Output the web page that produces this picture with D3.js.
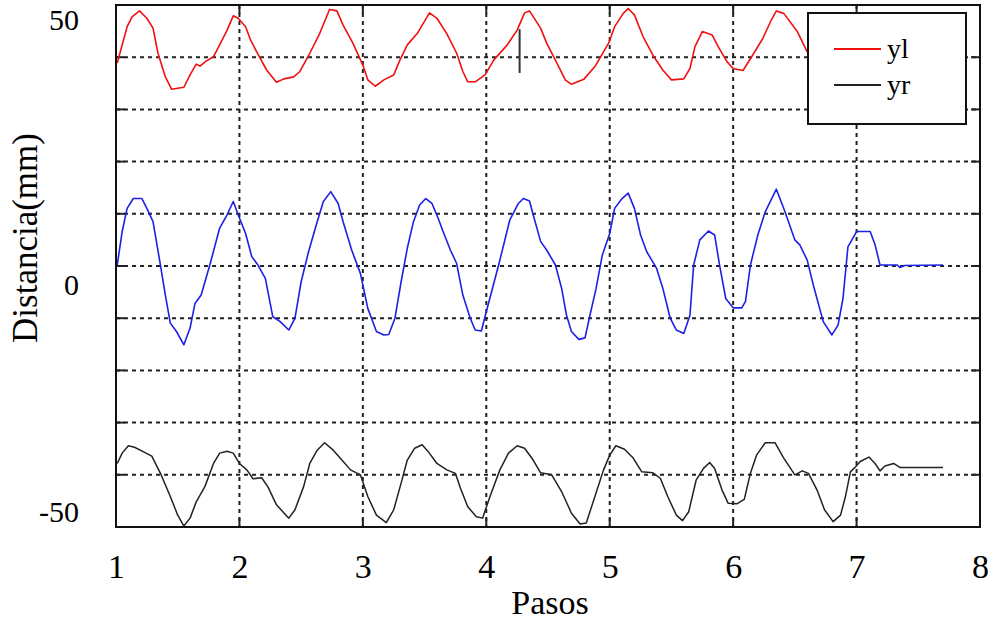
<!DOCTYPE html>
<html>
<head>
<meta charset="utf-8">
<script src="https://cdn.jsdelivr.net/npm/d3@7"></script>
<style>
  html, body { margin: 0; padding: 0; background: #fff; }
  svg { display: block; }
  text { font-family: "Liberation Serif", "Times New Roman", serif; fill: #000; }
</style>
</head>
<body>
<svg id="chart" width="994" height="623"></svg>
<script>
// ---------- data (x in Pasos, y in mm) ----------
const xTickValues = [1, 2, 3, 4, 5, 6, 7, 8];
const xGridValues = [2, 3, 4, 5, 6, 7];
const yTickValues = [50, 0, -50];
const yGridValues = [-42.4, -31.8, -21.2, -10.6, 0, 10.6, 21.2, 31.8, 42.4];
const seriesNames = ["yl", "yr"];

const ylData = [
  [1.01,41.2],[1.09,48.6],[1.13,50.6],[1.19,51.8],[1.25,50.3],[1.30,48.3],[1.34,43.2],[1.40,38.4],
  [1.45,35.9],[1.55,36.3],[1.60,38.8],[1.65,41.0],[1.68,40.6],[1.73,41.6],[1.79,42.5],[1.84,44.9],
  [1.90,47.9],[1.95,50.8],[1.99,50.3],[2.05,48.6],[2.09,45.9],[2.14,43.5],[2.22,39.8],[2.30,37.3],
  [2.36,38.0],[2.44,38.4],[2.49,39.5],[2.57,43.2],[2.65,47.2],[2.73,52.1],[2.79,51.8],[2.84,48.9],
  [2.92,45.2],[3.00,40.8],[3.04,37.8],[3.10,36.5],[3.17,37.8],[3.25,38.8],[3.30,41.8],[3.36,44.9],
  [3.44,47.2],[3.54,51.4],[3.60,50.3],[3.68,47.2],[3.76,43.2],[3.81,39.5],[3.85,37.4],[3.91,37.4],
  [3.99,38.8],[4.06,41.8],[4.17,44.9],[4.25,47.9],[4.31,51.4],[4.35,51.8],[4.44,48.3],[4.49,45.2],
  [4.56,41.8],[4.64,37.8],[4.69,36.9],[4.79,37.9],[4.88,40.5],[4.99,45.2],[5.04,48.6],[5.11,51.3],
  [5.15,52.3],[5.20,51.0],[5.27,46.6],[5.35,42.8],[5.43,39.8],[5.50,37.8],[5.60,38.0],[5.65,40.1],
  [5.69,44.5],[5.75,47.6],[5.83,46.9],[5.88,44.5],[5.95,41.5],[6.00,40.1],[6.08,39.7],[6.15,42.5],
  [6.24,46.2],[6.31,50.0],[6.35,51.8],[6.41,51.3],[6.52,47.6],[6.60,43.5]
];

const ycData = [
  [1.01,0.2],[1.05,7.0],[1.09,11.7],[1.14,13.7],[1.21,13.7],[1.25,11.7],[1.30,9.0],[1.36,0.2],
  [1.40,-5.9],[1.44,-11.6],[1.49,-13.3],[1.55,-16.0],[1.60,-12.6],[1.64,-7.6],[1.69,-5.9],[1.76,0.2],
  [1.84,7.7],[1.90,10.4],[1.95,13.1],[1.99,10.4],[2.05,6.6],[2.10,1.9],[2.15,0.2],[2.21,-2.5],
  [2.27,-10.3],[2.33,-11.3],[2.40,-13.0],[2.45,-10.6],[2.50,-3.2],[2.56,2.9],[2.63,9.0],[2.68,13.1],
  [2.74,15.1],[2.80,12.7],[2.84,9.0],[2.91,3.2],[2.98,-1.5],[3.04,-8.6],[3.11,-13.3],[3.17,-14.0],
  [3.21,-13.9],[3.26,-10.6],[3.31,-3.2],[3.36,3.6],[3.41,9.0],[3.46,12.4],[3.51,13.7],[3.56,12.7],
  [3.61,9.7],[3.65,7.0],[3.71,3.2],[3.76,0.5],[3.81,-5.9],[3.87,-10.6],[3.91,-13.0],[3.96,-13.2],
  [4.00,-9.3],[4.10,0.2],[4.19,9.3],[4.26,12.7],[4.30,13.7],[4.35,13.2],[4.38,10.4],[4.44,5.0],
  [4.49,3.2],[4.56,0.2],[4.61,-4.5],[4.65,-10.0],[4.69,-13.3],[4.75,-14.9],[4.80,-14.6],[4.84,-10.0],
  [4.89,-4.5],[4.94,2.2],[5.00,6.6],[5.04,11.7],[5.10,13.7],[5.15,14.8],[5.20,11.7],[5.25,6.3],
  [5.30,2.9],[5.38,-0.5],[5.43,-4.5],[5.49,-10.6],[5.54,-13.0],[5.60,-13.7],[5.65,-10.0],[5.68,0.2],
  [5.73,5.3],[5.80,7.1],[5.85,6.3],[5.89,0.2],[5.94,-6.6],[6.00,-8.5],[6.07,-8.5],[6.10,-7.2],
  [6.14,0.2],[6.20,6.3],[6.26,11.0],[6.35,15.6],[6.42,11.0],[6.50,5.3],[6.54,4.3],[6.60,1.2],
  [6.65,-3.9],[6.73,-11.3],[6.80,-14.0],[6.85,-12.0],[6.89,-6.6],[6.93,3.9],[7.00,7.0],[7.11,7.0],
  [7.15,4.3],[7.19,0.2],[7.33,0.2],[7.35,-0.3],[7.39,0.1],[7.70,0.2]
];

const yrData = [
  [1.01,-40.1],[1.05,-38.0],[1.10,-36.5],[1.15,-36.8],[1.22,-37.7],[1.29,-38.6],[1.36,-42.1],[1.44,-46.8],
  [1.50,-50.6],[1.55,-52.8],[1.60,-51.2],[1.65,-47.9],[1.72,-44.8],[1.79,-40.1],[1.84,-38.0],[1.90,-37.6],
  [1.95,-38.0],[2.00,-40.1],[2.06,-41.4],[2.11,-43.2],[2.18,-43.0],[2.23,-44.8],[2.30,-48.5],[2.40,-51.2],
  [2.45,-49.5],[2.52,-44.8],[2.57,-40.1],[2.63,-37.4],[2.69,-35.9],[2.76,-37.4],[2.83,-39.4],[2.90,-41.4],
  [2.98,-42.4],[3.04,-46.8],[3.11,-50.6],[3.19,-52.1],[3.25,-49.5],[3.31,-44.1],[3.36,-39.4],[3.42,-37.0],
  [3.48,-36.3],[3.53,-37.7],[3.60,-40.1],[3.68,-41.4],[3.75,-42.1],[3.79,-45.1],[3.85,-48.9],[3.92,-50.9],
  [3.97,-51.2],[4.03,-46.8],[4.11,-41.4],[4.18,-38.0],[4.25,-36.5],[4.31,-37.0],[4.38,-39.4],[4.44,-42.0],
  [4.53,-42.4],[4.61,-45.8],[4.69,-50.2],[4.76,-52.4],[4.81,-52.2],[4.88,-46.8],[4.95,-41.4],[5.00,-38.4],
  [5.05,-36.5],[5.12,-37.2],[5.19,-39.0],[5.26,-41.8],[5.35,-42.0],[5.41,-43.1],[5.47,-46.8],[5.54,-50.6],
  [5.59,-51.7],[5.64,-49.9],[5.70,-43.5],[5.76,-41.1],[5.81,-39.9],[5.85,-41.1],[5.91,-45.5],[5.96,-48.2],
  [6.03,-48.3],[6.09,-47.4],[6.14,-42.1],[6.19,-38.4],[6.26,-35.9],[6.34,-35.9],[6.41,-39.0],[6.50,-42.4],
  [6.56,-41.6],[6.61,-42.1],[6.68,-45.5],[6.74,-49.5],[6.81,-51.9],[6.87,-50.6],[6.91,-46.8],[6.95,-41.8],
  [6.99,-40.8],[7.03,-39.7],[7.10,-38.8],[7.15,-40.1],[7.19,-41.6],[7.23,-40.6],[7.30,-40.1],[7.35,-40.9],
  [7.70,-40.9]
];

// short vertical cursor mark in the upper band
const cursorX = 4.27;
const cursorY = [39.2, 48.1];

// ---------- layout ----------
const svg = d3.select("#chart");
const mLeft = 116, mRight = 980, mTop = 5, mBottom = 527;

const x = d3.scaleLinear().domain([1, 8]).range([mLeft, mRight]);
const y = d3.scaleLinear().domain([-53, 53]).range([mBottom, mTop]);

const g = svg.append("g");

// dashed grid
g.append("g").selectAll("line").data(xGridValues).join("line")
  .attr("x1", d => x(d)).attr("x2", d => x(d))
  .attr("y1", mTop).attr("y2", mBottom)
  .attr("stroke", "#222").attr("stroke-width", 2).attr("stroke-dasharray", "4,4");
g.append("g").selectAll("line").data(yGridValues).join("line")
  .attr("x1", mLeft).attr("x2", mRight)
  .attr("y1", d => y(d)).attr("y2", d => y(d))
  .attr("stroke", "#222").attr("stroke-width", 2).attr("stroke-dasharray", "4,4");

// inward ticks (MATLAB style) on all four sides
const tickLen = 9;
const tickG = g.append("g").attr("stroke", "#222").attr("stroke-width", 2);
xGridValues.forEach(v => {
  tickG.append("line").attr("x1", x(v)).attr("x2", x(v)).attr("y1", mTop).attr("y2", mTop + tickLen);
  tickG.append("line").attr("x1", x(v)).attr("x2", x(v)).attr("y1", mBottom).attr("y2", mBottom - tickLen);
});
yGridValues.forEach(v => {
  tickG.append("line").attr("x1", mLeft).attr("x2", mLeft + tickLen).attr("y1", y(v)).attr("y2", y(v));
  tickG.append("line").attr("x1", mRight).attr("x2", mRight - tickLen).attr("y1", y(v)).attr("y2", y(v));
});

// lines
const line = d3.line().x(d => x(d[0])).y(d => y(d[1]));
g.append("path").datum(ylData).attr("d", line)
  .attr("fill", "none").attr("stroke", "#f01010").attr("stroke-width", 1.6).attr("stroke-linejoin", "round");
g.append("path").datum(ycData).attr("d", line)
  .attr("fill", "none").attr("stroke", "#1f1fe6").attr("stroke-width", 1.6).attr("stroke-linejoin", "round");
g.append("path").datum(yrData).attr("d", line)
  .attr("fill", "none").attr("stroke", "#222").attr("stroke-width", 1.5).attr("stroke-linejoin", "round");

// cursor mark
g.append("line")
  .attr("x1", x(cursorX)).attr("x2", x(cursorX))
  .attr("y1", y(cursorY[0])).attr("y2", y(cursorY[1]))
  .attr("stroke", "#333").attr("stroke-width", 2);

// frame
g.append("rect").attr("x", mLeft).attr("y", mTop)
  .attr("width", mRight - mLeft).attr("height", mBottom - mTop)
  .attr("fill", "none").attr("stroke", "#111").attr("stroke-width", 2);

// axis labels
const fmt = d => String(d);
const xAxis = d3.axisBottom(x).tickValues(xTickValues).tickFormat(fmt).tickSize(0).tickPadding(27);
const xa = svg.append("g").attr("transform", `translate(0,${mBottom})`).call(xAxis);
xa.select(".domain").remove();
xa.selectAll("text").style("font-family", '"Liberation Serif", serif').style("font-size", "34px").attr("fill", "#000");

const yAxis = d3.axisLeft(y).tickValues(yTickValues).tickFormat(fmt).tickSize(0).tickPadding(37);
const ya = svg.append("g").attr("transform", `translate(${mLeft},0)`).call(yAxis);
ya.select(".domain").remove();
ya.selectAll("text").style("font-family", '"Liberation Serif", serif').style("font-size", "30px").attr("fill", "#000")
  .attr("dy", d => d === 0 ? "0.95em" : "0.32em");

// axis titles
svg.append("text").attr("x", (mLeft + mRight) / 2 + 2).attr("y", 614)
  .attr("text-anchor", "middle").style("font-size", "34px").text("Pasos");
svg.append("text").attr("transform", "translate(37,238) rotate(-90)")
  .attr("text-anchor", "middle").style("font-size", "35px").text("Distancia(mm)");

// legend
const lg = svg.append("g");
lg.append("rect").attr("x", 808).attr("y", 13).attr("width", 158).attr("height", 111)
  .attr("fill", "#fff").attr("stroke", "#111").attr("stroke-width", 2);
const legendColors = ["#f01010", "#222"];
seriesNames.forEach((name, i) => {
  const ly = 49 + i * 36;
  lg.append("line").attr("x1", 834).attr("x2", 881).attr("y1", ly).attr("y2", ly)
    .attr("stroke", legendColors[i]).attr("stroke-width", 2);
  lg.append("text").attr("x", 887).attr("y", ly + 9).style("font-size", "28px").text(name);
});
</script>
</body>
</html>
